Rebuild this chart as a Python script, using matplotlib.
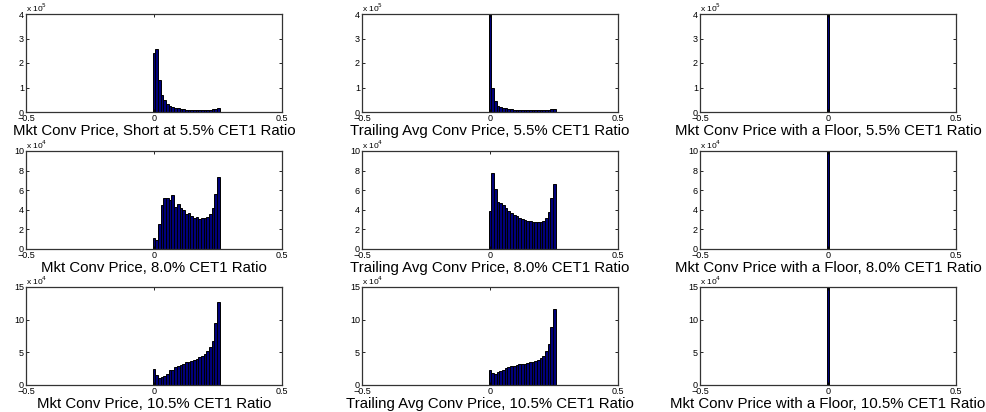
import numpy as np
import matplotlib
matplotlib.use("Agg")
import matplotlib.pyplot as plt

plt.rcParams['font.family'] = ['Liberation Sans', 'DejaVu Sans']

# bin centres of the histograms (conversion-price buckets)
bins = [0.0, 0.0105, 0.021, 0.0315, 0.042, 0.0525, 0.063, 0.0735, 0.084, 0.0945,
        0.105, 0.1155, 0.126, 0.1365, 0.147, 0.1575, 0.168, 0.1785, 0.189, 0.1995,
        0.21, 0.2205, 0.231, 0.2415, 0.252]
width = 0.0105

# counts, row 1 in units of 1e5, rows 2 and 3 in units of 1e4
mkt_55 = [2.41, 2.57, 1.29, 0.71, 0.50, 0.33, 0.26, 0.20, 0.16, 0.15, 0.12, 0.11, 0.10,
          0.09, 0.08, 0.08, 0.08, 0.08, 0.08, 0.08, 0.09, 0.10, 0.11, 0.12, 0.15]
mkt_80 = [1.09, 0.89, 2.56, 4.44, 5.19, 5.22, 5.00, 5.46, 4.30, 4.57, 4.16, 3.96, 3.58,
          3.72, 3.41, 3.20, 3.30, 3.07, 3.17, 3.20, 3.27, 3.60, 4.23, 5.63, 7.34]
mkt_105 = [2.41, 1.54, 1.13, 1.23, 1.44, 1.74, 2.30, 2.36, 2.82, 2.97, 3.03, 3.18, 3.59,
           3.59, 3.64, 3.90, 4.00, 4.30, 4.50, 4.82, 5.13, 5.74, 6.77, 9.44, 12.70]
trail_55 = [6.50, 1.00, 0.44, 0.25, 0.20, 0.16, 0.15, 0.12, 0.11, 0.10, 0.09, 0.08, 0.08,
            0.07, 0.07, 0.07, 0.07, 0.07, 0.07, 0.07, 0.08, 0.09, 0.10, 0.11, 0.14]
trail_80 = [3.92, 7.75, 6.14, 4.78, 4.68, 4.44, 4.16, 3.86, 3.65, 3.52, 3.34, 3.20, 3.07,
            3.00, 2.90, 2.83, 2.76, 2.73, 2.73, 2.75, 2.87, 3.14, 3.75, 5.22, 6.62]
trail_105 = [2.35, 1.90, 1.75, 1.95, 2.15, 2.35, 2.55, 2.75, 2.85, 2.95, 3.05, 3.15, 3.20,
             3.25, 3.35, 3.45, 3.55, 3.65, 3.85, 4.15, 4.45, 5.20, 6.30, 8.90, 11.60]
floor_bin = [0.0]
floor_55 = [9.0]
floor_80 = [40.0]
floor_105 = [40.0]

panels = [
    [(mkt_55, 'Mkt Conv Price, Short at 5.5% CET1 Ratio'),
     (trail_55, 'Trailing Avg Conv Price, 5.5% CET1 Ratio'),
     (floor_55, 'Mkt Conv Price with a Floor, 5.5% CET1 Ratio')],
    [(mkt_80, 'Mkt Conv Price, 8.0% CET1 Ratio'),
     (trail_80, 'Trailing Avg Conv Price, 8.0% CET1 Ratio'),
     (floor_80, 'Mkt Conv Price with a Floor, 8.0% CET1 Ratio')],
    [(mkt_105, 'Mkt Conv Price, 10.5% CET1 Ratio'),
     (trail_105, 'Trailing Avg Conv Price, 10.5% CET1 Ratio'),
     (floor_105, 'Mkt Conv Price with a Floor, 10.5% CET1 Ratio')],
]
row_ylim = [4, 10, 15]
row_yticks = [[0, 1, 2, 3, 4], [0, 2, 4, 6, 8, 10], [0, 5, 10, 15]]
row_exp = ['5', '4', '4']

W, H = 987, 412
fig = plt.figure(figsize=(W / 100, H / 100), dpi=100)
col_left = [26, 362, 700]
col_w = 256
row_top = [14, 151, 287]
row_h = 98

for r in range(3):
    for c in range(3):
        vals, label = panels[r][c]
        ax = fig.add_axes([col_left[c] / W, 1 - (row_top[r] + row_h) / H, col_w / W, row_h / H])
        x = floor_bin if c == 2 else bins
        ax.bar(x, vals, width=width, color='#00007a', edgecolor='black', linewidth=0.7)
        ax.set_xlim(-0.5, 0.5)
        ax.set_ylim(0, row_ylim[r])
        ax.set_xticks([-0.5, 0, 0.5])
        ax.set_xticklabels(['\u22120.5', '0', '0.5'])
        ax.set_yticks(row_yticks[r])
        ax.tick_params(direction='in', length=2, width=0.6, labelsize=6.5, pad=1.5,
                       top=True, right=True)
        for s in ax.spines.values():
            s.set_linewidth(0.9)
            s.set_color('#333333')
        ax.set_xlabel(label, fontsize=10.8, labelpad=0.5)
        ax.text(0.0, 1.0, r'x 10$^{%s}$' % row_exp[r], transform=ax.transAxes,
                fontsize=6, ha='left', va='bottom')

fig.savefig('out.png', dpi=100)
